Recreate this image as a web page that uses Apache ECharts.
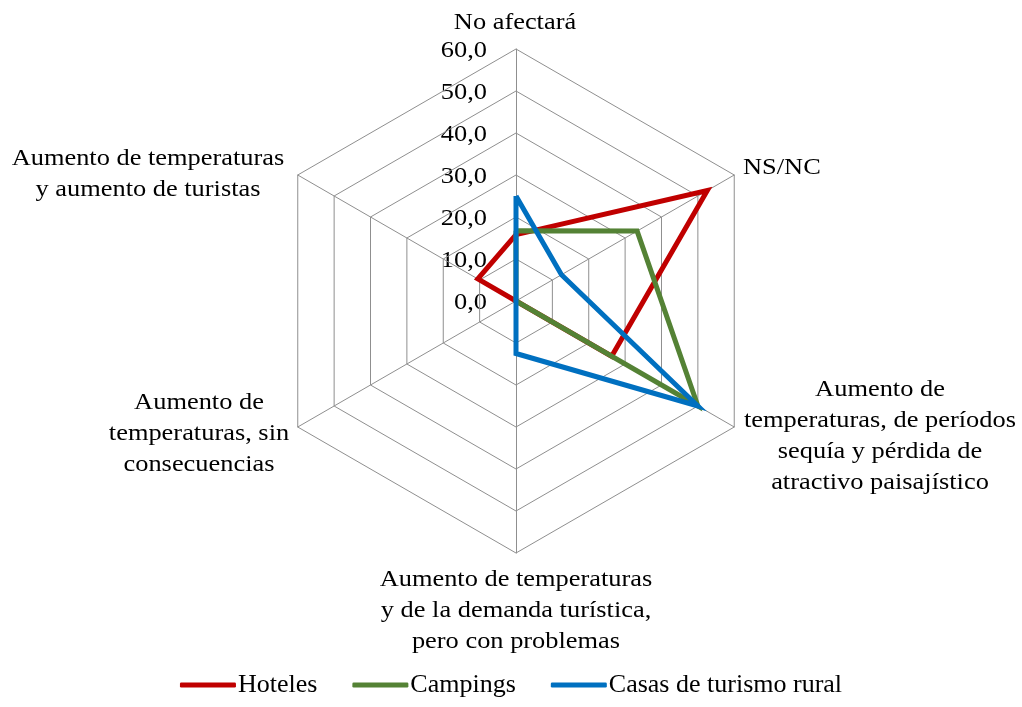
<!DOCTYPE html>
<html>
<head>
<meta charset="utf-8">
<script src="https://cdn.jsdelivr.net/npm/echarts@6/dist/echarts.min.js"></script>
<style>
html,body{margin:0;padding:0;background:#fff;}
#chart{width:1022px;height:707px;}
</style>
</head>
<body>
<div id="chart"></div>
<script>
// Categories in clockwise order starting at the top
const categories = [
  'No afectará',
  'NS/NC',
  'Aumento de\ntemperaturas, de períodos\nsequía y pérdida de\natractivo paisajístico',
  'Aumento de temperaturas\ny de la demanda turística,\npero con problemas',
  'Aumento de\ntemperaturas, sin\nconsecuencias',
  'Aumento de temperaturas\ny aumento de turistas'
];
const seriesNames = ['Hoteles', 'Campings', 'Casas de turismo rural'];
const hoteles  = [15.8, 52.6, 26.3, 0.0, 0.0, 10.5];
const campings = [16.7, 33.3, 50.0, 0.0, 0.0, 0.0];
const casas    = [25.0, 12.5, 50.0, 12.5, 0.0, 0.0];
const tickValues = [0, 10, 20, 30, 40, 50, 60];

// ---- layout / style ----
const MAX = 60;
const CX = 516, CY = 301, R = 252;
const colors = ['#C00000', '#548235', '#0070C0'];
const FONT = "'Liberation Serif', 'Times New Roman', serif";
const nameLayout = [
  {x: 515, y: 23,  align: 'center'},
  {x: 743, y: 168, align: 'left'},
  {x: 880, y: 436, align: 'center'},
  {x: 516, y: 611, align: 'center'},
  {x: 199, y: 434, align: 'center'},
  {x: 148, y: 174, align: 'center'}
];

// ECharts radar runs counter-clockwise from the top
const order = [0, 5, 4, 3, 2, 1];
const allData = [hoteles, campings, casas];

const graphics = [];
categories.forEach((c, i) => {
  const L = nameLayout[i];
  graphics.push({
    type: 'text', x: L.x, y: L.y, scaleX: 1.1, scaleY: 1, silent: true,
    style: {text: c, fontSize: 24, fontFamily: FONT, fill: '#000',
            align: L.align, verticalAlign: 'middle', lineHeight: 31}
  });
});
tickValues.forEach(v => {
  graphics.push({
    type: 'text', x: 487, y: CY - v / MAX * R + 1.5, scaleX: 1.1, silent: true,
    style: {text: v.toFixed(1).replace('.', ','), fontSize: 24, fontFamily: FONT,
            fill: '#000', align: 'right', verticalAlign: 'middle'}
  });
});

const chart = echarts.init(document.getElementById('chart'));
chart.setOption({
  animation: false,
  backgroundColor: '#fff',
  color: colors,
  legend: {
    data: seriesNames,
    bottom: 4,
    left: 'center',
    icon: 'roundRect',
    itemWidth: 56,
    itemHeight: 5,
    itemGap: 35,
    textStyle: {fontSize: 26, fontFamily: FONT, color: '#000', padding: [0, 0, 0, -3]}
  },
  radar: {
    center: [CX, CY],
    radius: R,
    startAngle: 90,
    splitNumber: 6,
    shape: 'polygon',
    indicator: order.map(i => ({name: categories[i], min: 0, max: MAX})),
    axisName: {show: false},
    splitArea: {show: false},
    splitLine: {lineStyle: {color: '#8F8F8F', width: 1}},
    axisLine: {lineStyle: {color: '#8F8F8F', width: 1}},
    axisTick: {show: false},
    axisLabel: {show: false}
  },
  series: seriesNames.map((n, k) => ({
    type: 'radar',
    symbol: 'none',
    z: 2 + k,
    data: [{
      name: n,
      value: order.map(i => allData[k][i]),
      lineStyle: {color: colors[k], width: 5, join: 'miter', miterLimit: 10},
      itemStyle: {color: colors[k]}
    }]
  })),
  graphic: graphics
});
</script>
</body>
</html>
